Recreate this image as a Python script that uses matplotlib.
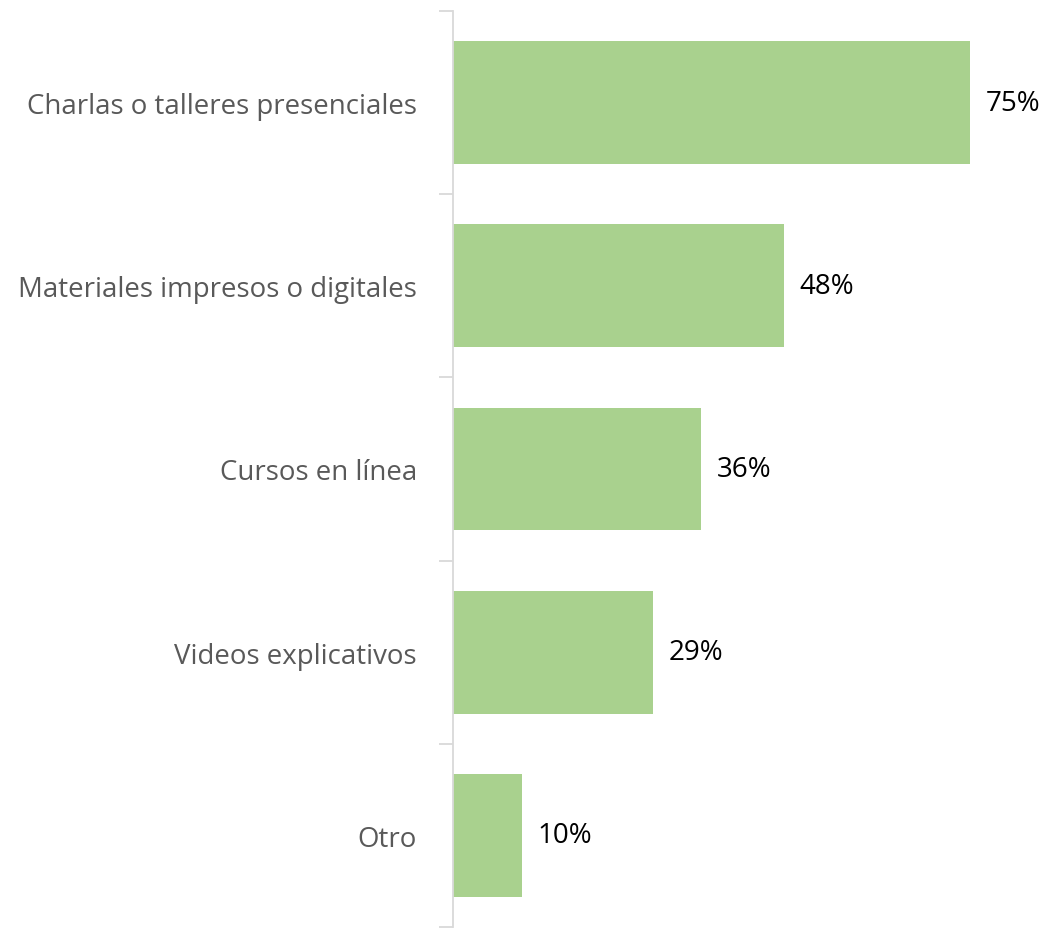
import matplotlib
matplotlib.use("Agg")
import matplotlib.pyplot as plt
import numpy as np

categories = ["Charlas o talleres presenciales", "Materiales impresos o digitales",
              "Cursos en línea", "Videos explicativos", "Otro"]
values = [75, 48, 36, 29, 10]
labels = ["75%", "48%", "36%", "29%", "10%"]

W, H = 1045, 929
fig = plt.figure(figsize=(W/100, H/100), dpi=100)
ax_left, ax_right = 453, 1045
ax_top, ax_bot = 12, 928
ax = fig.add_axes([ax_left/W, (H-ax_bot)/H, (ax_right-ax_left)/W, (ax_bot-ax_top)/H])

n = len(categories)
y = np.arange(n)
ax.barh(y, values, height=0.67, color="#A9D18E", zorder=2)
ax.set_ylim(n-0.5, -0.5)
ax.set_xlim(0, (ax_right-ax_left)/((970-453)/75))

for yi, v, lab in zip(y, values, labels):
    ax.text(v + 2.3, yi, lab, va="center", ha="left", fontsize=20,
            family="Open Sans", color="black")

ax.set_yticks(y)
ax.set_yticklabels(categories, family="Open Sans", fontsize=19.9, color="#595959")
ax.tick_params(axis="y", which="major", length=0, pad=26)
ax.set_yticks(np.arange(-0.5, n, 1), minor=True)
ax.tick_params(axis="y", which="minor", length=10, color="#D9D9D9", width=1.3)
ax.set_xticks([])
for s in ["top", "right", "bottom"]:
    ax.spines[s].set_visible(False)
ax.spines["left"].set_color("#D9D9D9")
ax.spines["left"].set_linewidth(1.3)

fig.savefig("out.png", dpi=100)
